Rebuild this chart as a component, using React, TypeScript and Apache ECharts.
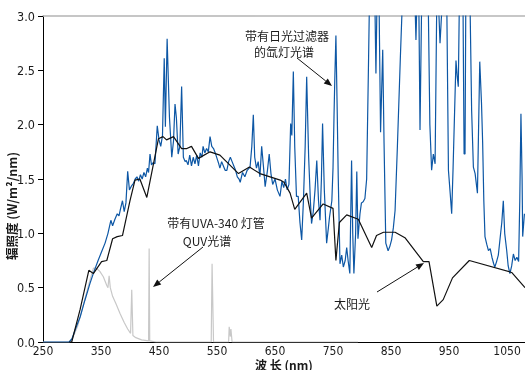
import React, { useEffect, useRef } from "react";
import * as echarts from "echarts";

// ---- Data (wavelength nm, irradiance W/m²/nm) ----
const xTickLabels = [250, 350, 450, 550, 650, 750, 850, 950, 1050];

const sunNm = [295, 299.5, 314, 329, 336.8, 351, 360, 370, 378, 387, 400, 408.6, 417, 429, 449, 457, 463, 475, 489, 498, 506, 518, 538, 555, 587, 606, 624, 659, 665.5, 676, 684, 704.6, 713, 733, 750, 755, 761, 773.6, 793.6, 816.7, 825, 837, 857, 874, 905.7, 915.5, 929, 940, 956, 985, 1058, 1081];
const sunVal = [0, 0, 0.3, 0.66, 0.63, 0.74, 0.75, 0.95, 0.97, 0.98, 1.3, 1.49, 1.5, 1.33, 1.87, 1.89, 1.86, 1.89, 1.78, 1.78, 1.8, 1.69, 1.75, 1.72, 1.55, 1.61, 1.55, 1.49, 1.47, 1.37, 1.22, 1.37, 1.14, 1.27, 1.23, 0.75, 1.1, 1.17, 1.13, 0.87, 0.98, 1.01, 1.01, 0.96, 0.74, 0.74, 0.33, 0.39, 0.59, 0.75, 0.64, 0.5];

const xenonNm = [250, 295, 300, 306, 314, 322, 331, 338, 345, 351, 357, 362, 367, 370, 374, 378, 381, 383, 387, 390, 393, 396, 399, 403, 406, 409, 412, 415, 418, 421, 424, 427, 430, 432, 434.5, 437, 440, 443, 447, 450, 453, 456, 459, 461, 464, 468, 472, 475, 477.6, 480, 483, 486, 489, 492, 495, 497, 500, 503, 506, 509, 512, 515, 518, 521, 524, 526, 529, 532, 535, 538, 541, 544, 547, 550, 553, 555, 558, 561, 564, 567, 570, 573, 576, 579, 582, 585, 588, 590, 594, 598, 602, 607, 610, 612.6, 615, 618, 621, 624, 627, 630, 633, 637, 640, 643, 646, 650, 654, 658.6, 662, 665, 668, 671, 674, 677, 679, 681.6, 684, 687, 690, 693, 696, 699, 702, 704.6, 708, 711, 713, 716, 719, 722, 725, 727.6, 730, 732, 735, 739, 742, 744, 748, 750, 751.7, 753, 755, 757, 759, 762, 765, 767.8, 771, 773.6, 776, 779, 782, 784, 786, 789, 791, 793, 796.5, 799, 802, 805, 808, 811, 813, 818, 822, 824, 826, 829, 832, 835.7, 838, 841, 845, 848, 851, 854, 857, 861, 866, 870, 880, 891, 893, 895, 898, 900, 903, 910, 914, 917, 920, 923, 926, 929, 932, 934.5, 937, 940, 946, 949, 952, 954.6, 957, 962, 964, 966, 968, 974, 976, 977.6, 979, 986, 989, 992, 995, 999, 1003, 1006, 1008, 1010, 1012, 1015, 1018, 1021, 1024, 1027, 1029, 1032, 1035, 1038, 1041, 1043.6, 1046, 1049.5, 1052, 1055, 1058, 1061, 1064, 1067, 1070, 1072, 1074, 1076, 1077, 1080];
const xenonVal = [0, 0, 0.03, 0.12, 0.23, 0.38, 0.54, 0.65, 0.75, 0.83, 0.91, 1.0, 1.12, 1.07, 1.13, 1.18, 1.16, 1.21, 1.3, 1.2, 1.28, 1.57, 1.4, 1.44, 1.46, 1.5, 1.52, 1.48, 1.54, 1.5, 1.56, 1.52, 1.6, 1.56, 1.73, 1.63, 1.65, 1.64, 1.99, 1.86, 1.8, 1.9, 2.61, 1.98, 2.79, 2.07, 1.7, 1.85, 2.19, 2.06, 1.73, 1.8, 2.35, 1.7, 1.66, 1.67, 1.63, 1.72, 1.62, 1.7, 1.64, 1.72, 1.62, 1.74, 1.7, 1.8, 1.74, 1.78, 1.75, 1.89, 1.8, 1.78, 1.74, 1.69, 1.64, 1.6, 1.66, 1.62, 1.58, 1.58, 1.66, 1.7, 1.66, 1.62, 1.58, 1.52, 1.5, 1.47, 1.56, 1.52, 1.58, 1.61, 1.8, 2.09, 1.7, 1.6, 1.66, 1.52, 1.8, 1.62, 1.43, 1.58, 1.73, 1.55, 1.45, 1.5, 1.4, 1.34, 1.48, 1.42, 1.5, 1.4, 1.45, 2.01, 1.9, 2.49, 1.8, 1.34, 1.34, 1.1, 0.94, 1.3, 1.8, 2.44, 1.7, 1.3, 1.09, 1.2, 1.4, 1.67, 1.3, 1.12, 1.5, 2.01, 1.4, 0.91, 1.05, 1.15, 1.3, 1.6, 2.07, 2.4, 2.82, 2.2, 1.52, 0.72, 0.8, 0.69, 0.75, 0.87, 0.75, 0.63, 1.67, 1.0, 0.63, 1.0, 1.57, 0.95, 1.18, 1.28, 1.29, 1.32, 1.5, 2.5, 3.2, 3.5, 3.2, 2.47, 3.2, 3.3, 1.93, 2.69, 1.83, 0.91, 0.84, 0.88, 0.94, 1.05, 1.21, 1.8, 2.6, 3.2, 3.5, 3.2, 2.78, 3.2, 3.1, 1.95, 3.2, 3.4, 3.2, 2.0, 1.58, 1.73, 1.64, 3.2, 3.1, 2.75, 3.0, 3.2, 3.2, 1.58, 1.37, 1.18, 1.6, 2.59, 2.45, 2.35, 3.2, 3.2, 1.73, 1.73, 3.2, 3.2, 2.13, 1.61, 1.55, 1.37, 2.58, 2.2, 1.83, 1.3, 0.97, 0.9, 0.84, 0.86, 0.78, 0.72, 0.69, 0.74, 0.8, 0.95, 1.1, 1.3, 1.0, 0.84, 0.7, 0.63, 0.7, 0.81, 0.75, 0.78, 0.74, 1.3, 2.1, 1.5, 0.97, 1.18];

const quvNm = [250, 295, 300, 310, 320, 330, 337, 342, 348, 354, 360, 362, 364, 366, 370, 376, 383, 390, 396, 401, 403, 405, 410, 420, 432, 433, 434, 445, 540, 541.5, 542.5, 544, 570, 571, 573, 574, 576, 793];
const quvVal = [0, 0, 0.02, 0.15, 0.35, 0.55, 0.68, 0.68, 0.65, 0.6, 0.52, 0.5, 0.61, 0.5, 0.42, 0.35, 0.26, 0.18, 0.12, 0.08, 0.48, 0.06, 0.04, 0.02, 0.01, 0.86, 0.01, 0, 0, 0.72, 0.72, 0, 0, 0.14, 0.05, 0.12, 0, 0];

const zip = (xs: number[], ys: number[]) => xs.map((x, i) => [x, ys[i]]);

const CJK = '"Noto Sans CJK SC", "Liberation Sans", Arial, sans-serif';
const NUM = '"Liberation Sans Narrow", "DejaVu Sans Condensed", "Liberation Sans", Arial, sans-serif';

function arrow(x1: number, y1: number, x2: number, y2: number) {
  const dx = x2 - x1, dy = y2 - y1;
  const len = Math.sqrt(dx * dx + dy * dy);
  const ux = dx / len, uy = dy / len;
  const hl = 8, hw = 3.2;
  const bx = x2 - ux * hl, by = y2 - uy * hl;
  return [
    { type: "line", shape: { x1, y1, x2: bx, y2: by }, style: { stroke: "#111", lineWidth: 1 } },
    {
      type: "polygon",
      shape: { points: [[x2, y2], [bx - uy * hw, by + ux * hw], [bx + uy * hw, by - ux * hw]] },
      style: { fill: "#111" },
    },
  ];
}

function label(text: string, x: number, y: number) {
  return {
    type: "text",
    x,
    y,
    style: {
      text,
      font: `12px ${CJK}`,
      fill: "#1a1a1a",
      textAlign: "center",
      textVerticalAlign: "middle",
    },
  };
}

export default function App() {
  const ref = useRef<HTMLDivElement>(null);
  useEffect(() => {
    if (!ref.current) return;
    const chart = echarts.init(ref.current, null, { renderer: "svg" });
    chart.setOption({
      animation: false,
      grid: { left: 43, top: 16, right: 0, bottom: 28, outerBoundsMode: "none", containLabel: false },
      xAxis: [
        {
          type: "value",
          min: 250,
          max: 1081,
          axisLine: { lineStyle: { color: "#000", width: 1 } },
          axisTick: { show: false },
          splitLine: { show: false },
          axisLabel: {
            customValues: xTickLabels,
            formatter: (v: number) => String(v),
            color: "#1a1a1a",
            fontSize: 12,
            fontFamily: NUM,
            margin: 3,
          },
        },
        {
          type: "value",
          position: "top",
          min: 250,
          max: 1081,
          axisLine: { show: true, lineStyle: { color: "#b4b4b4", width: 1.5 } },
          axisTick: { show: false },
          axisLabel: { show: false },
          splitLine: { show: false },
        },
      ],
      yAxis: {
        type: "value",
        min: 0,
        max: 3,
        interval: 0.5,
        axisLine: { show: true, lineStyle: { color: "#000", width: 1 } },
        axisTick: { show: true, length: 5, lineStyle: { color: "#000" } },
        splitLine: { show: false },
        axisLabel: {
          formatter: (v: number) => v.toFixed(1),
          color: "#1a1a1a",
          fontSize: 12.5,
          fontFamily: NUM,
          margin: 8,
        },
      },
      graphic: [
        {
          type: "text",
          x: 11,
          y: 206,
          rotation: Math.PI / 2,
          style: {
            text: "辐照度 (W/m²/nm)",
            font: `bold 12.5px ${CJK}`,
            fill: "#1a1a1a",
            textAlign: "center",
            textVerticalAlign: "middle",
          },
        },
        {
          type: "text",
          x: 284,
          y: 358,
          style: {
            text: "波 长 (nm)",
            font: `bold 12px ${CJK}`,
            fill: "#1a1a1a",
            textAlign: "center",
            textVerticalAlign: "top",
          },
        },
        label("带有日光过滤器", 287, 35),
        label("的氙灯光谱", 284, 51),
        ...arrow(297, 58, 332, 86),
        label("带有UVA-340 灯管", 216, 222),
        label("QUV光谱", 207, 240),
        ...arrow(203, 247, 153, 287),
        label("太阳光", 352, 303),
        ...arrow(377, 292, 424, 263),
      ],
      series: [
        {
          name: "QUV",
          type: "line",
          data: zip(quvNm, quvVal),
          symbol: "none",
          lineStyle: { color: "#c8c8c8", width: 1.2 },
          clip: true,
        },
        {
          name: "氙灯",
          type: "line",
          data: zip(xenonNm, xenonVal),
          symbol: "none",
          lineStyle: { color: "#0d57a5", width: 1.2 },
          clip: true,
        },
        {
          name: "太阳光",
          type: "line",
          data: zip(sunNm, sunVal),
          symbol: "none",
          lineStyle: { color: "#111", width: 1.2 },
          clip: true,
        },
      ],
    });
    return () => chart.dispose();
  }, []);
  return <div ref={ref} style={{ position: "fixed", left: 0, top: 0, width: 525, height: 370 }} />;
}
